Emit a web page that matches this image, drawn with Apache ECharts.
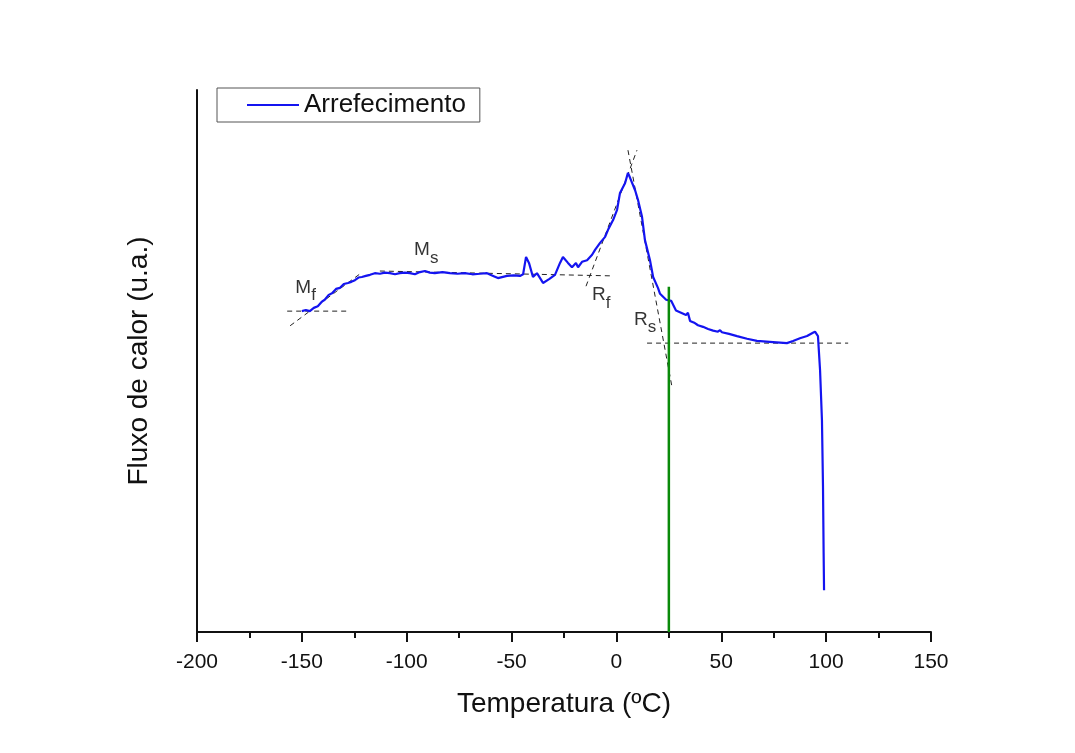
<!DOCTYPE html>
<html><head><meta charset="utf-8">
<script src="https://cdn.jsdelivr.net/npm/echarts@6/dist/echarts.min.js"></script>
<style>html,body{margin:0;padding:0;background:#fff}#c{width:1075px;height:753px}</style>
</head><body><div id="c"></div>
<script>
// Main DSC curve (temperature ºC, heat flow a.u.)
const tempC = [-150.0,-148.1,-146.2,-144.3,-142.4,-140.6,-139.1,-137.2,-135.6,-133.7,-131.8,-130.0,-128.0,-126.4,-124.7,-123.0,-121.4,-119.5,-117.5,-115.2,-112.8,-110.4,-108.0,-105.6,-103.3,-100.9,-98.5,-96.1,-93.7,-91.3,-89.0,-86.6,-83.0,-79.4,-75.8,-72.3,-68.7,-65.1,-61.7,-58.8,-56.5,-52.2,-49.0,-46.0,-44.5,-43.1,-41.7,-39.8,-37.9,-35.0,-32.1,-29.3,-26.9,-25.5,-23.1,-21.2,-19.3,-18.3,-16.4,-14.0,-11.6,-10.2,-7.8,-5.4,-4.0,-1.6,0.3,1.7,4.1,5.5,6.5,7.4,8.9,10.3,12.2,13.6,16.0,17.5,19.8,20.8,23.7,26.1,28.4,30.8,33.2,34.1,35.1,37.4,38.9,41.3,43.7,46.1,48.4,49.4,50.3,53.7,57.5,62.3,67.0,74.7,81.3,84.2,87.5,90.9,93.7,94.7,96.1,97.1,98.0,98.5,98.8,99.0];
const flux = [59.2,59.4,59.2,59.8,60.1,60.9,61.3,62.2,62.5,63.3,63.5,64.2,64.4,64.6,64.9,65.4,65.5,65.7,65.9,66.2,66.1,66.3,66.2,66.0,66.2,66.3,66.2,66.0,66.4,66.6,66.3,66.2,66.4,66.2,66.1,66.2,66.0,66.1,66.2,65.7,65.3,65.7,65.8,65.7,66.0,69.2,68.1,65.5,66.2,64.4,65.1,65.9,68.1,69.2,68.1,67.3,68.1,67.3,68.3,68.6,69.6,70.5,71.8,72.9,74.2,76.0,77.9,81.0,82.8,84.7,83.8,83.9,81.5,79.7,76.6,72.3,68.6,65.5,63.5,62.4,61.3,61.1,59.3,58.9,58.5,58.9,57.4,57.0,56.6,56.3,55.9,55.6,55.4,55.7,55.3,55.0,54.6,54.1,53.7,53.5,53.3,53.7,54.2,54.6,55.2,55.4,54.6,48.3,39.1,26.8,14.6,7.7];
// Tangent construction lines [x1,y1,x2,y2]
const tangents = [
  [-157.0,59.2,-128.0,59.2],
  [-155.6,56.5,-122.2,66.1],
  [-112.8,66.6,-1.6,65.7],
  [-14.5,63.8,9.8,88.9],
  [5.5,88.9,26.5,45.2],
  [14.6,53.3,110.5,53.3]
];
const greenLine = [[25,63.7],[25,0]];
const annotNames = ['M|f','M|s','R|f','R|s'];
const annotPos = [[-153.1,65.3],[-96.5,72.2],[-11.6,63.9],[8.4,59.4]];
const xTicks = {min:-200,max:150,interval:50};

const font = 'Liberation Sans, Arial, sans-serif';
const series = [];
series.push({name:'Arrefecimento',type:'line',data:tempC.map((t,i)=>[t,flux[i]]),symbol:'none',
  lineStyle:{color:'#1414f0',width:2.2},itemStyle:{color:'#1414f0'},z:5});
tangents.forEach(t=>series.push({type:'line',data:[[t[0],t[1]],[t[2],t[3]]],symbol:'none',silent:true,
  lineStyle:{color:'#222',width:1,type:[5,4]},z:3}));
series.push({type:'line',data:greenLine,symbol:'none',lineStyle:{color:'#0a8a0a',width:2.5},z:6});
series.push({type:'scatter',symbolSize:0,z:7,
  data:annotPos.map((p,i)=>({value:p,name:annotNames[i]})),
  label:{show:true,position:[0,0],align:'left',verticalAlign:'top',
    formatter:p=>{const s=p.name.split('|');return '{a|'+s[0]+'}{b|'+s[1]+'}';},
    rich:{a:{fontSize:19,lineHeight:19,verticalAlign:'top',color:'#000',fontFamily:font},
          b:{fontSize:17,lineHeight:19,verticalAlign:'top',padding:[9,0,0,0],color:'#000',fontFamily:font}}}});

const chart = echarts.init(document.getElementById('c'));
chart.setOption({
  animation:false,
  backgroundColor:'#fff',
  grid:{left:197,right:144,top:90,bottom:121},
  legend:{data:[{name:'Arrefecimento',icon:'path://M0,0L52,0L52,2L0,2Z'}],left:217,top:88,orient:'vertical',
    borderColor:'#555',borderWidth:1,borderRadius:0,padding:[4,14,4,30],
    itemWidth:52,itemHeight:2,itemGap:0,
    itemStyle:{color:'#1414f0'},
    textStyle:{fontSize:26,fontFamily:font,color:'#111'}},
  xAxis:{type:'value',min:xTicks.min,max:xTicks.max,interval:xTicks.interval,
    name:'Temperatura (ºC)',nameLocation:'middle',nameGap:58,
    nameTextStyle:{fontSize:28,fontFamily:font,color:'#111'},
    axisLine:{lineStyle:{color:'#111',width:2}},
    axisTick:{show:true,length:10,lineStyle:{color:'#111',width:2}},
    minorTick:{show:true,splitNumber:2,length:6,lineStyle:{color:'#111',width:2}},
    axisLabel:{fontSize:21,fontFamily:font,color:'#111',margin:20},
    splitLine:{show:false}},
  yAxis:{type:'value',min:0,max:100,
    name:'Fluxo de calor (u.a.)',nameLocation:'middle',nameGap:44,
    nameTextStyle:{fontSize:28,fontFamily:font,color:'#111'},
    axisLine:{show:true,onZero:false,lineStyle:{color:'#111',width:2}},
    axisTick:{show:false},axisLabel:{show:false},splitLine:{show:false}},
  series:series
});
</script></body></html>
